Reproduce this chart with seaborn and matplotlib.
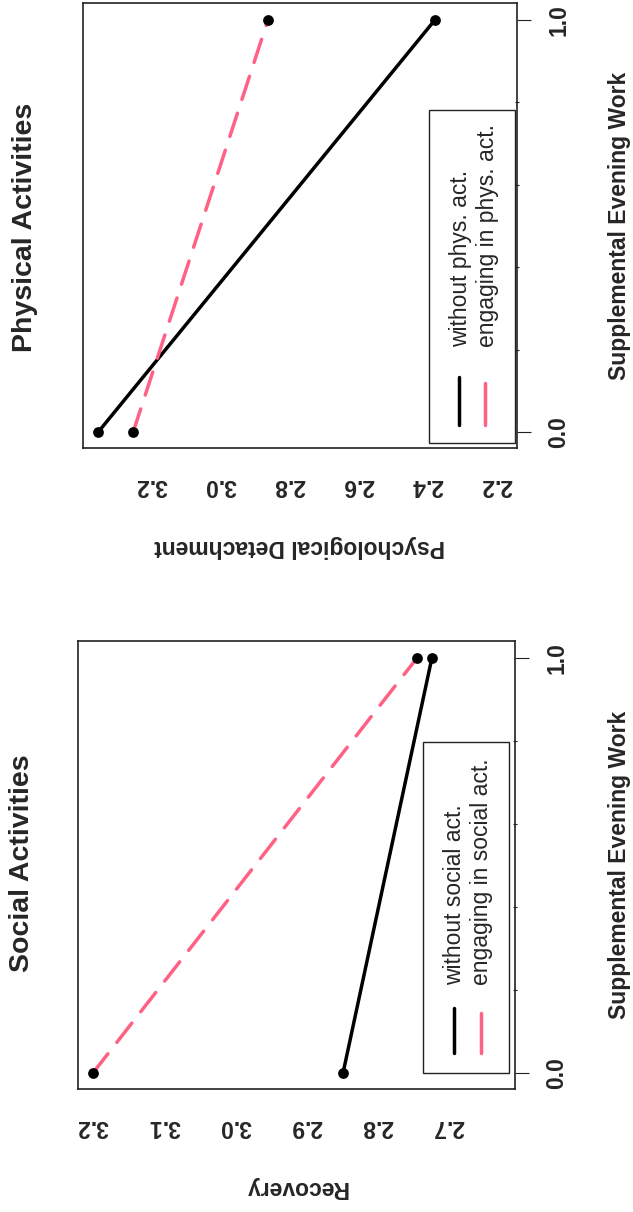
"""
Interaction plots: supplemental evening work x leisure activity,
drawn turned on its side (page rotated by 90 degrees).
"""
import matplotlib.pyplot as plt
import pandas as pd
import seaborn as sns
from matplotlib.lines import Line2D
from matplotlib.patches import Rectangle

# values
work_levels = [0.0, 1.0]
work_ticks = [0.0, 1.0]
work_minor = [0.2, 0.4, 0.6, 0.8]

social_labels = ["without social act.", "engaging in social act."]
social_without = [2.848, 2.723]
social_engaging = [3.200, 2.744]
social_ticks = [3.2, 3.1, 3.0, 2.9, 2.8, 2.7]

phys_labels = ["without phys. act.", "engaging in phys. act."]
phys_without = [3.353, 2.379]
phys_engaging = [3.252, 2.862]
phys_ticks = [3.2, 3.0, 2.8, 2.6, 2.4, 2.2]

PINK = "#FF6185"
INK = "#222222"
FS = 16.5


def draw_panel(ax, without, engaging, labels, ticks, xlim, ylabel, legend_geo):
    df = pd.DataFrame({
        "work": work_levels * 2,
        "value": list(without) + list(engaging),
        "group": [labels[0]] * 2 + [labels[1]] * 2,
    })
    sns.lineplot(
        data=df, x="value", y="work", hue="group", style="group",
        palette={labels[0]: "black", labels[1]: PINK},
        dashes={labels[0]: "", labels[1]: (7, 4.2)},
        orient="y", sort=False, linewidth=2.5, legend=False, ax=ax,
        dash_capstyle="round", solid_capstyle="round",
    )
    sns.scatterplot(
        data=df, x="value", y="work", color="black", s=60,
        edgecolor="black", linewidth=0, legend=False, ax=ax, zorder=5,
    )

    ax.set_xlim(*xlim)
    ax.set_ylim(-0.0386, 1.041)
    ax.set_xticks(ticks, labels=[f"{t:.1f}" for t in ticks])
    ax.set_yticks(work_ticks, labels=[f"{t:.1f}" for t in work_ticks])
    ax.set_yticks(work_minor, minor=True)

    ax.yaxis.tick_right()
    ax.tick_params(axis="x", direction="out", length=10, width=0.8,
                   color=INK, labelrotation=180, pad=9, labelsize=FS)
    ax.tick_params(axis="y", which="major", direction="out", length=10,
                   width=0.8, color=INK, labelrotation=90, pad=12,
                   labelsize=FS)
    ax.tick_params(axis="y", which="minor", direction="inout", length=3,
                   width=0.8, color=INK)
    for lab in ax.get_xticklabels() + ax.get_yticklabels():
        lab.set_fontweight("bold")
    for lab in ax.get_yticklabels():
        lab.set_va("center")

    ax.set_xlabel("")
    ax.set_ylabel("")
    ax.text(0.5, -0.221, ylabel, transform=ax.transAxes, rotation=180,
            ha="center", va="center", fontsize=FS, fontweight="bold")
    ax.text(legend_geo["xlab"], 0.5, "Supplemental Evening Work",
            transform=ax.transAxes, rotation=90, ha="center", va="center",
            fontsize=FS, fontweight="bold")

    for side in ax.spines.values():
        side.set_visible(True)
        side.set_color(INK)
        side.set_linewidth(1.2)

    # hand-made legend, rotated like the rest of the page
    x0, y0, x1, y1 = legend_geo["box"]
    ax.add_patch(Rectangle((x0, y0), x1 - x0, y1 - y0, transform=ax.transAxes,
                           fill=False, edgecolor=INK, linewidth=1.0,
                           zorder=6))
    colors = ["black", PINK]
    for i in range(2):
        hx = legend_geo["hx"][i]
        hy0, hy1 = legend_geo["hy"][i]
        ax.add_line(Line2D([hx, hx], [hy0, hy1], transform=ax.transAxes,
                           color=colors[i], linewidth=2.5,
                           solid_capstyle="round", zorder=7))
        ax.text(legend_geo["tx"][i], legend_geo["ty"], labels[i],
                transform=ax.transAxes, rotation=90, rotation_mode="anchor",
                ha="left", va="center", fontsize=FS, zorder=7)


sns.set_theme(style="white")
plt.rcParams["font.family"] = ["Liberation Sans", "DejaVu Sans"]

fig = plt.figure(figsize=(6.33, 12.12), dpi=100)
ax_phys = fig.add_axes([0.1311, 0.6304, 0.6856, 0.3672])
ax_soc = fig.add_axes([0.1232, 0.1015, 0.6904, 0.3696])

draw_panel(
    ax_soc, social_without, social_engaging, social_labels, social_ticks,
    (3.221, 2.606), "Recovery",
    {"box": (0.789, 0.036, 0.986, 0.775), "hx": (0.860, 0.922),
     "hy": ((0.080, 0.181), (0.080, 0.170)), "tx": (0.862, 0.924),
     "ty": 0.232, "xlab": 1.238},
)
draw_panel(
    ax_phys, phys_without, phys_engaging, phys_labels, phys_ticks,
    (3.397, 2.142), "Psychological Detachment",
    {"box": (0.797, 0.011, 0.995, 0.760), "hx": (0.866, 0.926),
     "hy": ((0.052, 0.160), (0.052, 0.146)), "tx": (0.870, 0.932),
     "ty": 0.227, "xlab": 1.237},
)

fig.text(22 / 633, 0.288, "Social Activities", rotation=90, ha="center",
         va="center", fontsize=20.5, fontweight="bold")
fig.text(25 / 633, 0.8127, "Physical Activities", rotation=90, ha="center",
         va="center", fontsize=20.5, fontweight="bold")

fig.savefig("out.png", dpi=100, facecolor="white")
